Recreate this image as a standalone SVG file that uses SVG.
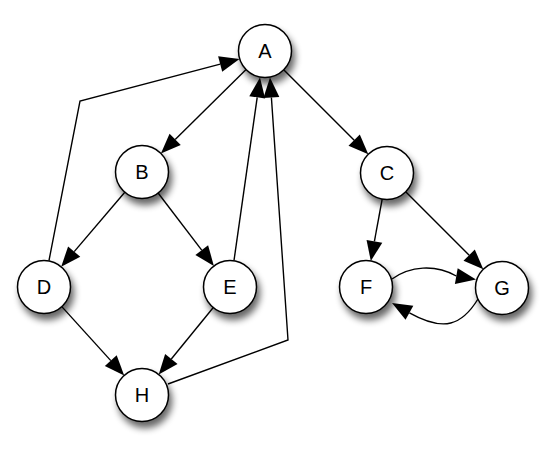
<svg xmlns="http://www.w3.org/2000/svg" width="542" height="460" viewBox="0 0 542 460">
<defs>
<filter id="sh" x="-50%" y="-50%" width="200%" height="200%">
<feGaussianBlur in="SourceAlpha" stdDeviation="3.5"/>
<feOffset dx="3" dy="6" result="b"/>
<feComponentTransfer><feFuncA type="linear" slope="0.6"/></feComponentTransfer>
<feMerge><feMergeNode/><feMergeNode in="SourceGraphic"/></feMerge>
</filter>
<style>
.n circle{fill:#fff;stroke:#000;stroke-width:1.5}
.n text{font-family:"Liberation Sans",Arial,sans-serif;font-size:20px;fill:#000;text-anchor:middle;dominant-baseline:central}
#edges path{fill:none;stroke:#000;stroke-width:1.4}
#edges polygon{fill:#000;stroke:none}
</style>
</defs>
<rect width="542" height="460" fill="#fff"/>
<g id="edges">
<path d="M246.1,69.6 L175.2,139.4"/>
<polygon points="160.9,153.4 169.55,133.68 180.77,145.08"/>
<path d="M283.7,69.7 L354.2,140.2"/>
<polygon points="368.3,154.3 348.5,145.82 359.82,134.5"/>
<path d="M124.8,192.2 L74.2,251.6"/>
<polygon points="61.2,266.8 68.09,246.39 80.27,256.77"/>
<path d="M158.1,193 L201.7,250.1"/>
<polygon points="213.9,266 195.39,254.98 208.09,245.26"/>
<path d="M61.8,306.6 L110.8,360.6"/>
<polygon points="124.2,375.4 104.83,365.96 116.69,355.2"/>
<path d="M213.3,307.5 L171.3,359"/>
<polygon points="158.7,374.5 165.14,353.94 177.54,364.06"/>
<path d="M234,260.5 L257.2,97.3"/>
<polygon points="260,77.5 265.11,98.43 249.27,96.17"/>
<path d="M168,384 L288,340 L271.4,97.5"/>
<polygon points="270,77.5 279.35,96.9 263.39,98"/>
<path d="M49,260.5 L80,101 L220.2,64.1"/>
<polygon points="239.5,59 222.2,71.83 218.12,56.35"/>
<path d="M382.2,199 L374.4,241.3"/>
<polygon points="370.8,261 366.55,239.88 382.29,242.78"/>
<path d="M405.7,191.7 L469.2,255.2"/>
<polygon points="483.3,269.3 463.5,260.82 474.82,249.5"/>
<path d="M392,279 C410,266 435,264 456.3,276"/>
<polygon points="476,279.5 454.91,283.9 457.69,268.14"/>
<path d="M478,299 C462,325 444.3,332.3 409.4,312.8"/>
<polygon points="392,303 413.34,305.78 405.54,319.74"/>
</g>
<g id="A" class="n"><circle cx="265" cy="51" r="26.5" filter="url(#sh)"/><text x="265" y="51">A</text></g>
<g id="B" class="n"><circle cx="142" cy="172" r="26.5" filter="url(#sh)"/><text x="142" y="172">B</text></g>
<g id="C" class="n"><circle cx="387" cy="173" r="26.5" filter="url(#sh)"/><text x="387" y="173">C</text></g>
<g id="D" class="n"><circle cx="44" cy="287" r="26.5" filter="url(#sh)"/><text x="44" y="287">D</text></g>
<g id="E" class="n"><circle cx="230" cy="287" r="26.5" filter="url(#sh)"/><text x="230" y="287">E</text></g>
<g id="F" class="n"><circle cx="366" cy="287" r="26.5" filter="url(#sh)"/><text x="366" y="287">F</text></g>
<g id="G" class="n"><circle cx="502" cy="288" r="26.5" filter="url(#sh)"/><text x="502" y="288">G</text></g>
<g id="H" class="n"><circle cx="142" cy="395" r="26.5" filter="url(#sh)"/><text x="142" y="395">H</text></g>
</svg>
